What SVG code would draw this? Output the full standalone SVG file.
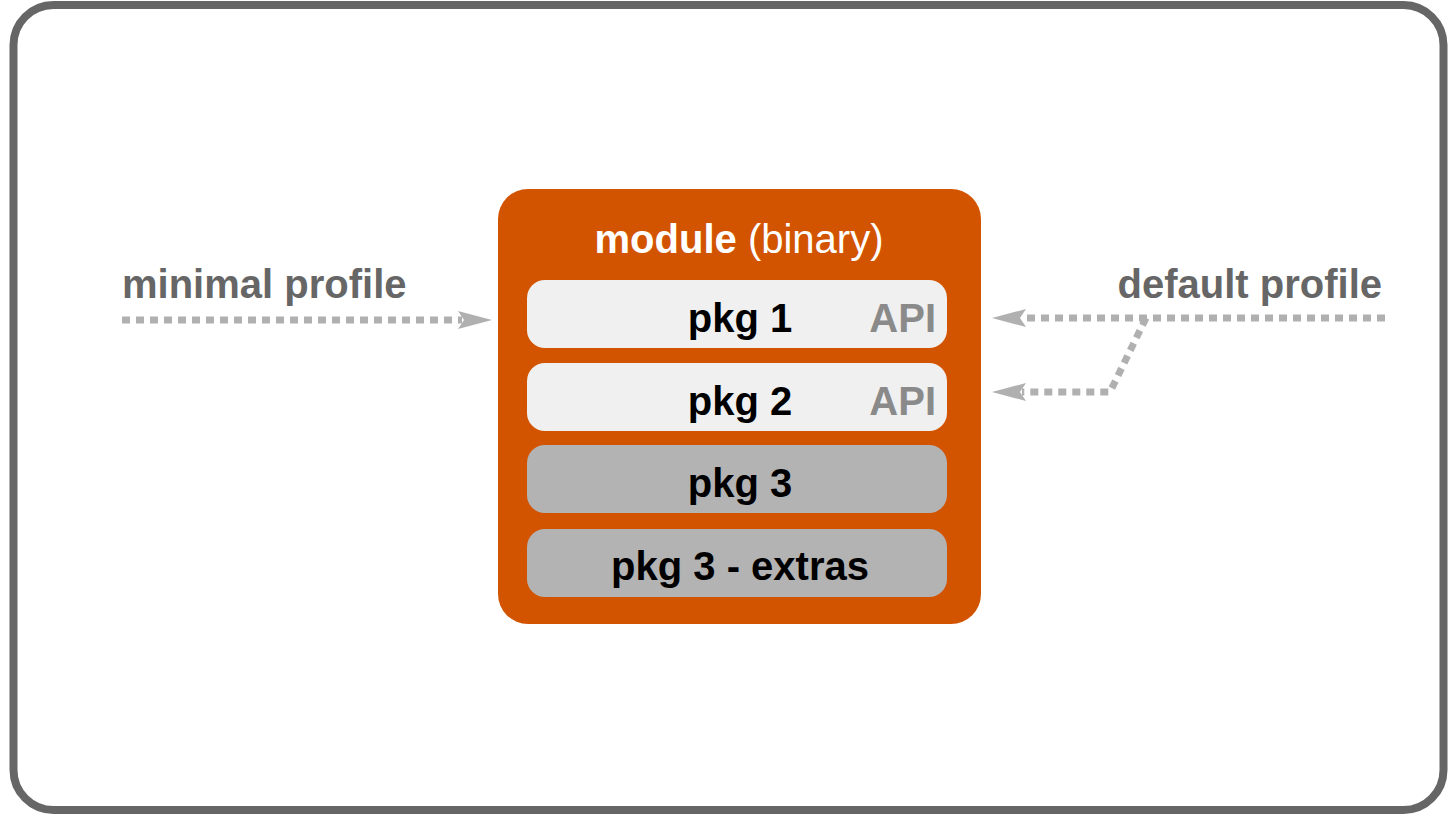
<svg xmlns="http://www.w3.org/2000/svg" width="1449" height="814" viewBox="0 0 1449 814">
<style>
.lbl{font-family:"Liberation Sans",Arial,sans-serif;font-weight:bold;font-size:40px;fill:#666}
.pkg{font-family:"Liberation Sans",Arial,sans-serif;font-weight:bold;font-size:40px;fill:#000}
.api{font-family:"Liberation Sans",Arial,sans-serif;font-weight:bold;font-size:40px;fill:#8a8a8a}
.conn{fill:none;stroke:#b0b0b0;stroke-width:7;stroke-dasharray:8 6}
</style>
<defs>
<marker id="ah" viewBox="0 0 34 20" refX="4" refY="10" markerWidth="34" markerHeight="20" markerUnits="userSpaceOnUse" orient="auto">
<path d="M0,1 L34,10 L0,19 L6,10 Z" fill="#b0b0b0"/>
</marker>
</defs>
<rect x="13.5" y="5" width="1430" height="805" rx="40" fill="#fff" stroke="#666" stroke-width="8"/>
<g id="module">
<rect x="498" y="189" width="483" height="435" rx="30" fill="#d35400"/>
<text x="739" y="253" text-anchor="middle" font-family="Liberation Sans,Arial,sans-serif" font-size="40" fill="#fff"><tspan font-weight="bold">module</tspan> (binary)</text>
</g>
<g id="pkg1">
<rect x="527" y="280" width="420" height="68" rx="18" fill="#f0f0f0"/>
<text class="pkg" x="740" y="332" text-anchor="middle">pkg 1</text>
<text class="api" x="936" y="332" text-anchor="end">API</text>
</g>
<g id="pkg2">
<rect x="527" y="363" width="420" height="68" rx="18" fill="#f0f0f0"/>
<text class="pkg" x="740" y="415" text-anchor="middle">pkg 2</text>
<text class="api" x="936" y="415" text-anchor="end">API</text>
</g>
<g id="pkg3">
<rect x="527" y="445" width="420" height="68" rx="18" fill="#b3b3b3"/>
<text class="pkg" x="740" y="497" text-anchor="middle">pkg 3</text>
</g>
<g id="pkg3extras">
<rect x="527" y="529" width="420" height="68" rx="18" fill="#b3b3b3"/>
<text class="pkg" x="740" y="580" text-anchor="middle">pkg 3 - extras</text>
</g>
<g id="minimal">
<text class="lbl" x="122" y="298">minimal profile</text>
</g>
<g id="default">
<text class="lbl" x="1382" y="298" text-anchor="end">default profile</text>
</g>
<g id="connectors">
<path class="conn" d="M122,320 L462,320" marker-end="url(#ah)"/>
<path class="conn" d="M1385,318 L1022,318" marker-end="url(#ah)"/>
<path class="conn" d="M1146,318 L1110,392 L1022,392" marker-end="url(#ah)"/>
</g>
</svg>
